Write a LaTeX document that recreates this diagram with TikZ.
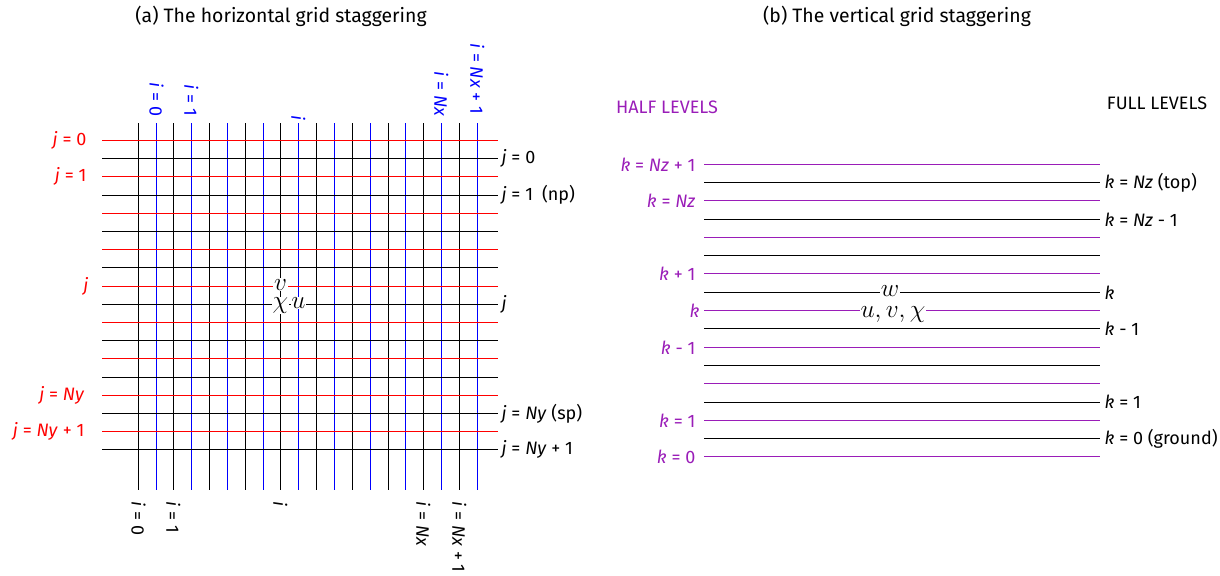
\RequirePackage{fix-cm}
\documentclass[tikz,border=0pt]{standalone}
\usepackage{fontspec}
\setmainfont{Fira Sans}
\usepackage{tikz}
\usetikzlibrary{positioning}
\definecolor{halflev}{HTML}{9A1DB8}
\definecolor{ustag}{HTML}{0000FF}
\definecolor{vstag}{HTML}{FF0000}

\begin{document}
\begin{tikzpicture}[
  x=0.025cm, y=-0.025cm,
  gridline/.style={line width=0.72pt},
  title/.style={font=\fontsize{13.8}{16}\selectfont},
  lab/.style={font=\fontsize{12.8}{15}\selectfont, inner sep=1pt},
  vlab/.style={lab, rotate=-90},
  sym/.style={fill=white, inner sep=0.5pt, font=\fontsize{18}{20}\selectfont}
]
  \useasboundingbox (0,0) rectangle (1220,575);

  % (a) horizontal staggering
  \node[title] (ta) at (281,16) {(a) The horizontal grid staggering};
  \foreach \m in {0,...,9} {
    \pgfmathsetmacro\xb{round(137.7+35.7*\m)+0.5}
    \pgfmathsetmacro\xu{round(155.5+35.7*\m)+0.5}
    \draw[gridline] (\xb,123) -- (\xb,490);
    \draw[gridline, ustag] (\xu,123) -- (\xu,490);
  }
  \foreach \n in {0,...,8} {
    \pgfmathsetmacro\yv{round(140+36.4*\n)+0.5}
    \pgfmathsetmacro\yc{round(158.2+36.4*\n)+0.5}
    \draw[gridline, vstag] (102,\yv) -- (498,\yv);
    \draw[gridline] (102,\yc) -- (498,\yc);
  }

  \node[lab, vstag, anchor=east] (jv0) at (88,140.5) {\textit{j} = 0};
  \node[lab, vstag, anchor=east] (jv1) at (88,176.5) {\textit{j} = 1};
  \node[lab, vstag, anchor=east] (jv) at (90,286.5) {\textit{j}};
  \node[lab, vstag, anchor=east] (jvny) at (86,395.5) {\textit{j} = \textit{Ny}};
  \node[lab, vstag, anchor=east] (jvny1) at (86,431.5) {\textit{j} = \textit{Ny} + 1};

  \node[lab, anchor=west] (jm0) at (500,158.5) {\textit{j} = 0};
  \node[lab, anchor=west] (jm1) at (500,194.5) {\textit{j} = 1\enspace(np)};
  \node[lab, anchor=west] (jm) at (500,304.5) {\textit{j}};
  \node[lab, anchor=west] (jmny) at (500,413.5) {\textit{j} = \textit{Ny} (sp)};
  \node[lab, anchor=west] (jmny1) at (500,449.5) {\textit{j} = \textit{Ny} + 1};

  \node[vlab, ustag, anchor=east] (iu0) at (156.5,118) {\textit{i} = 0};
  \node[vlab, ustag, anchor=east] (iu1) at (191.5,118) {\textit{i} = 1};
  \node[vlab, ustag, anchor=east] (iu) at (298.5,122) {\textit{i}};
  \node[vlab, ustag, anchor=east] (iunx) at (441.5,118) {\textit{i} = \textit{Nx}};
  \node[vlab, ustag, anchor=east] (iunx1) at (477.5,116) {\textit{i} = \textit{Nx} + 1};

  \node[vlab, anchor=west] (im0) at (138.5,500) {\textit{i} = 0};
  \node[vlab, anchor=west] (im1) at (173.5,500) {\textit{i} = 1};
  \node[vlab, anchor=west] (im) at (280.5,500) {\textit{i}};
  \node[vlab, anchor=west] (imnx) at (423.5,500) {\textit{i} = \textit{Nx}};
  \node[vlab, anchor=west] (imnx1) at (459.5,500) {\textit{i} = \textit{Nx} + 1};

  \node[sym, anchor=base] (vpt) at (280.5,290) {$v$};
  \node[sym, anchor=base] (chipt) at (280.5,308.5) {$\chi$};
  \node[sym, anchor=base] (upt) at (298.5,308.5) {$u$};

  % (b) vertical staggering
  \node[title] (tb) at (897,16) {(b) The vertical grid staggering};
  \node[lab, halflev] (half) at (667,107) {HALF LEVELS};
  \node[lab] (full) at (1157,103) {FULL LEVELS};
  \foreach \n in {0,...,8} {
    \pgfmathsetmacro\yh{round(163.5+36.6*\n)+0.5}
    \draw[gridline, halflev] (704,\yh) -- (1100,\yh);
  }
  \foreach \n in {0,...,7} {
    \pgfmathsetmacro\yf{round(182+36.6*\n)+0.5}
    \draw[gridline] (704,\yf) -- (1100,\yf);
  }

  \node[lab, halflev, anchor=east] (khtop) at (697,164.5) {\textit{k} = \textit{Nz} + 1};
  \node[lab, halflev, anchor=east] (khnz) at (697,200.5) {\textit{k} = \textit{Nz}};
  \node[lab, halflev, anchor=east] (khkp) at (697,273.5) {\textit{k} + 1};
  \node[lab, halflev, anchor=east] (khk) at (701,310.5) {\textit{k}};
  \node[lab, halflev, anchor=east] (khkm) at (697,347.5) {\textit{k} - 1};
  \node[lab, halflev, anchor=east] (kh1) at (697,420.5) {\textit{k} = 1};
  \node[lab, halflev, anchor=east] (kh0) at (697,456.5) {\textit{k} = 0};

  \node[lab, anchor=west] (kftop) at (1103,182.5) {\textit{k} = \textit{Nz} (top)};
  \node[lab, anchor=west] (kfnzm) at (1103,219.5) {\textit{k} = \textit{Nz} - 1};
  \node[lab, anchor=west] (kfk) at (1103,292.5) {\textit{k}};
  \node[lab, anchor=west] (kfkm) at (1103,328.5) {\textit{k} - 1};
  \node[lab, anchor=west] (kf1) at (1103,401.5) {\textit{k} = 1};
  \node[lab, anchor=west] (kf0) at (1103,438.5) {\textit{k} = 0 (ground)};

  \node[sym, anchor=base] (wpt) at (890,296) {$w$};
  \node[sym, anchor=base] (uvpt) at (893,317) {$u, v, \chi$};
\end{tikzpicture}
\end{document}
